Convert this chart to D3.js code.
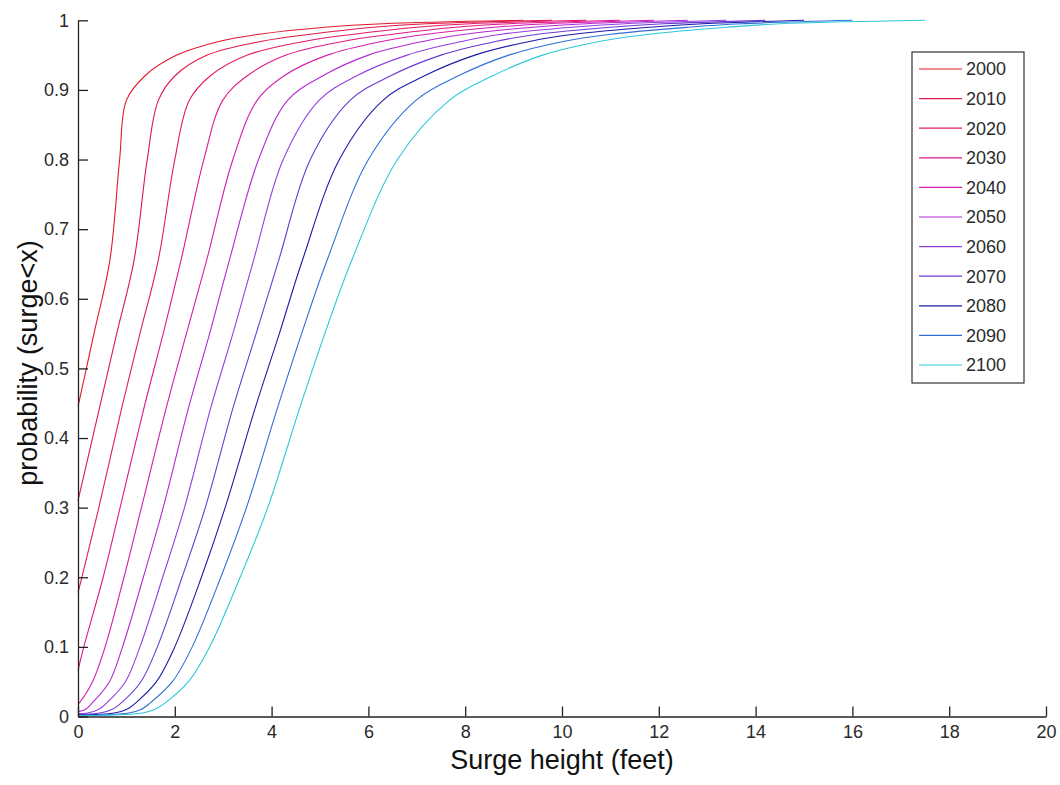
<!DOCTYPE html>
<html>
<head>
<meta charset="utf-8">
<script src="https://cdn.jsdelivr.net/npm/d3@7"></script>
<style>
  body { margin: 0; background: #fff; }
  svg { display: block; }
  .tick text { font-family: "Liberation Sans", Arial, sans-serif; font-size: 18px; fill: #2a2a2a; }
  .label { font-family: "Liberation Sans", Arial, sans-serif; font-size: 27px; fill: #111; }
  .legend text { font-family: "Liberation Sans", Arial, sans-serif; font-size: 18px; fill: #2a2a2a; }
</style>
</head>
<body>
<script>
// decades shown in the legend
var years = [2000, 2010, 2020, 2030, 2040, 2050, 2060, 2070, 2080, 2090, 2100];
var lineColors = ["#e3172c", "#dc1a48", "#e21866", "#de1886", "#d41cae", "#b42ad2",
                  "#9440e0", "#6a3ad2", "#1c1ca8", "#2f6fd6", "#2cc8d8"];

// probability reached at x = 0 for each decade
var startProb = [0.445, 0.31, 0.178, 0.066, 0.018, 0.007, 0.004, 0.003, 0.002, 0.001, 0.001];

// probability levels, and surge height (feet) where each curve reaches them
var probLevels = [0.005, 0.01, 0.02, 0.05, 0.1, 0.2, 0.3, 0.445, 0.55, 0.656, 0.8, 0.885, 0.92, 0.95, 0.97, 0.98, 0.99, 0.995, 1];
var surge2000 = [null, null, null, null, null, null, null, null, 0.33, 0.66, 0.86, 1.0, 1.38, 2.04, 2.93, 3.75, 5.1, 6.3, 9.2];
var surge2010 = [null, null, null, null, null, null, null, 0.45, 0.80, 1.16, 1.43, 1.66, 2.0, 2.67, 3.8, 4.8, 6.1, 7.2, 9.8];
var surge2020 = [null, null, null, null, null, 0.08, 0.43, 0.91, 1.28, 1.66, 2.0, 2.30, 2.73, 3.5, 4.7, 5.7, 7.0, 8.1, 10.5];
var surge2030 = [null, null, null, null, 0.12, 0.52, 0.87, 1.37, 1.76, 2.13, 2.6, 2.99, 3.49, 4.3, 5.5, 6.5, 7.8, 8.9, 11.2];
var surge2040 = [null, null, 0.03, 0.3, 0.56, 0.95, 1.31, 1.83, 2.24, 2.66, 3.2, 3.70, 4.25, 5.15, 6.3, 7.2, 8.6, 9.7, 11.9];
var surge2050 = [null, 0.15, 0.3, 0.65, 0.92, 1.35, 1.76, 2.29, 2.72, 3.13, 3.73, 4.33, 5.05, 6.0, 7.15, 8.0, 9.4, 10.5, 12.6];
var surge2060 = [0.2, 0.42, 0.6, 0.98, 1.28, 1.75, 2.2, 2.75, 3.2, 3.63, 4.24, 4.98, 5.75, 6.8, 7.95, 8.75, 10.2, 11.3, 13.4];
var surge2070 = [0.45, 0.7, 0.9, 1.3, 1.64, 2.15, 2.63, 3.21, 3.68, 4.15, 4.8, 5.62, 6.45, 7.5, 8.65, 9.5, 11.0, 12.1, 14.2];
var surge2080 = [0.75, 1.0, 1.2, 1.62, 2.0, 2.55, 3.04, 3.67, 4.16, 4.64, 5.4, 6.3, 7.15, 8.2, 9.35, 10.25, 11.8, 12.9, 15.0];
var surge2090 = [1.05, 1.3, 1.5, 1.95, 2.36, 2.95, 3.48, 4.13, 4.62, 5.15, 6.0, 6.98, 7.85, 8.9, 10.05, 11.0, 12.6, 13.7, 16.0];
var surge2100 = [1.33, 1.58, 1.81, 2.28, 2.72, 3.35, 3.92, 4.59, 5.1, 5.66, 6.6, 7.67, 8.56, 9.6, 10.8, 11.8, 13.4, 14.5, 17.5];

var surgeBySeries = [surge2000, surge2010, surge2020, surge2030, surge2040, surge2050,
                     surge2060, surge2070, surge2080, surge2090, surge2100];

// axis ticks
var xTicks = [0, 2, 4, 6, 8, 10, 12, 14, 16, 18, 20];
var yTicks = [0, 0.1, 0.2, 0.3, 0.4, 0.5, 0.6, 0.7, 0.8, 0.9, 1];

var width = 1060, height = 785;
var svg = d3.select("body").append("svg")
    .attr("width", width)
    .attr("height", height);

var x = d3.scaleLinear().domain([0, 20]).range([78, 1046]);
var y = d3.scaleLinear().domain([0, 1]).range([716.5, 20.3]);

// build the point lists for every decade
var series = years.map(function(yr, i) {
    var pts = [[0, startProb[i]]];
    surgeBySeries[i].forEach(function(sx, j) {
        if (sx !== null && sx > 0) pts.push([sx, probLevels[j]]);
    });
    return { year: yr, color: lineColors[i], points: pts };
});

var line = d3.line()
    .curve(d3.curveCatmullRom.alpha(0.5))
    .x(function(d) { return x(d[0]); })
    .y(function(d) { return y(d[1]); });

svg.append("g")
    .selectAll("path")
    .data(series)
    .enter().append("path")
    .attr("d", function(d) { return line(d.points); })
    .attr("fill", "none")
    .attr("stroke", function(d) { return d.color; })
    .attr("stroke-width", 1.1);

// axes, ticks pointing inward like matlab
var xAxis = d3.axisBottom(x)
    .tickValues(xTicks)
    .tickSizeInner(-10)
    .tickSizeOuter(0)
    .tickPadding(9)
    .tickFormat(d3.format("d"));

var yAxis = d3.axisLeft(y)
    .tickValues(yTicks)
    .tickSizeInner(-10)
    .tickSizeOuter(0)
    .tickPadding(9)
    .tickFormat(function(d) { return (d === 0 || d === 1) ? String(d) : d3.format(".1f")(d); });

var gx = svg.append("g")
    .attr("transform", "translate(0," + y(0) + ")")
    .call(xAxis);
var gy = svg.append("g")
    .attr("transform", "translate(" + x(0) + ",0)")
    .call(yAxis);

[gx, gy].forEach(function(g) {
    g.select(".domain").attr("stroke", "#222").attr("stroke-width", 1.3);
    g.selectAll(".tick line").attr("stroke", "#222").attr("stroke-width", 1.3);
});

// axis labels
svg.append("text")
    .attr("class", "label")
    .attr("x", 562)
    .attr("y", 769)
    .attr("text-anchor", "middle")
    .text("Surge height (feet)");

svg.append("text")
    .attr("class", "label")
    .attr("transform", "translate(37,363) rotate(-90)")
    .attr("text-anchor", "middle")
    .text("probability (surge<x)");

// legend
var legend = svg.append("g").attr("class", "legend");
legend.append("rect")
    .attr("x", 912).attr("y", 52)
    .attr("width", 112).attr("height", 331)
    .attr("fill", "#fff")
    .attr("stroke", "#333")
    .attr("stroke-width", 1.2);

var rowY = d3.scaleLinear().domain([0, years.length - 1]).range([69, 365]);

var rows = legend.selectAll(".row")
    .data(series)
    .enter().append("g")
    .attr("class", "row")
    .attr("transform", function(d, i) { return "translate(0," + rowY(i) + ")"; });

rows.append("line")
    .attr("x1", 919).attr("x2", 962)
    .attr("y1", 0).attr("y2", 0)
    .attr("stroke", function(d) { return d.color; })
    .attr("stroke-width", 1.2);

rows.append("text")
    .attr("x", 966)
    .attr("y", 0)
    .attr("dy", "0.35em")
    .text(function(d) { return d.year; });
</script>
</body>
</html>
